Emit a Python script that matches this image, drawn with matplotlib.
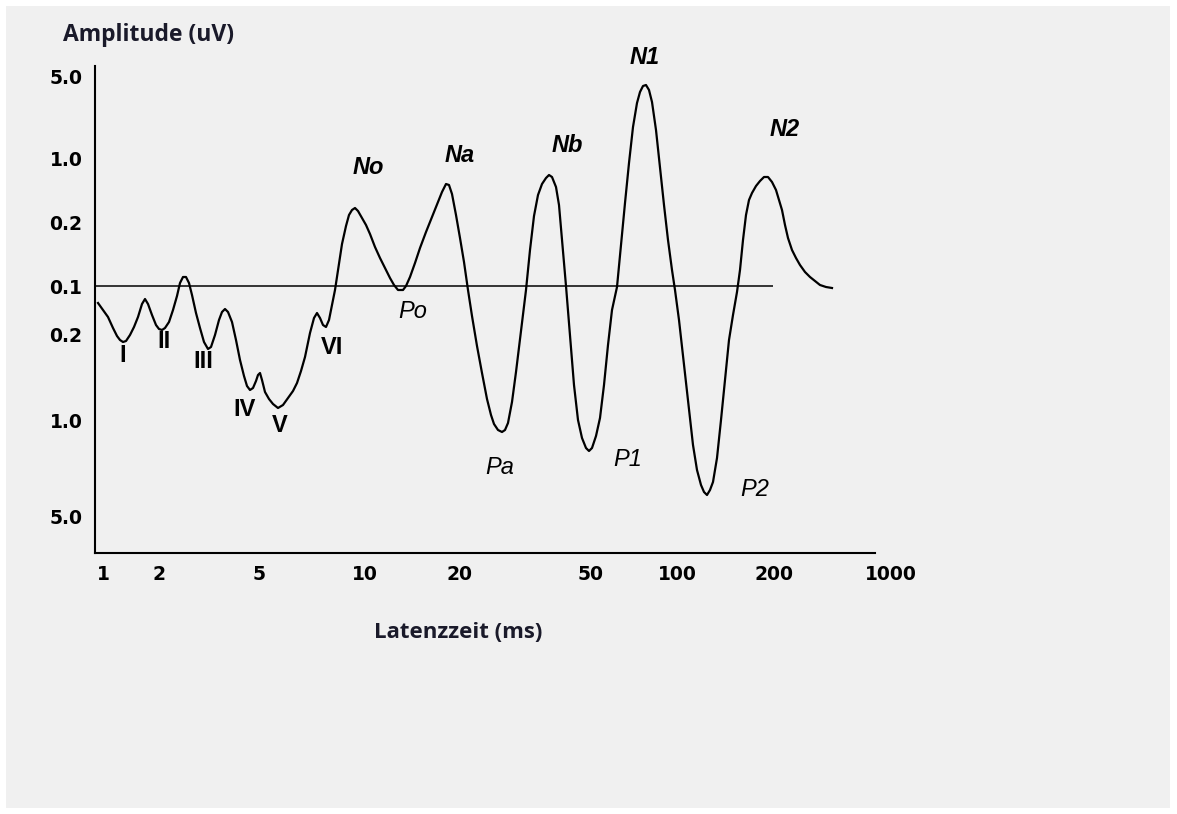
import matplotlib
matplotlib.use("Agg")
import matplotlib.pyplot as plt
from matplotlib.patches import Rectangle

# waveform (x: position along latency axis, y: height above baseline)
wave_x = [3, 8, 13, 18, 22, 25, 28, 31, 35, 39, 43, 47, 50, 53, 57, 61, 64, 67, 70, 74,
          78, 82, 85, 88, 91, 94, 97, 101, 105, 109, 113, 116, 120, 124, 127, 130, 133, 137,
          141, 145, 149, 152, 155, 158, 161, 163, 165, 167, 170, 174, 178, 183, 188, 193,
          198, 202, 206, 210, 215, 219, 222, 225, 228, 231, 234, 237, 240, 243, 247, 251,
          254, 257, 260, 263, 267, 271, 275, 280, 285, 290, 295, 299, 303, 308, 311, 315,
          320, 325, 331, 337, 343, 347, 351, 354, 357, 361, 365, 369, 373, 377, 382, 387,
          392, 396, 399, 403, 407, 410, 413, 417, 421, 426, 431, 435, 439, 443, 447, 451,
          454, 457, 461, 464, 467, 471, 475, 479, 483, 487, 491, 494, 497, 501, 505, 509,
          513, 517, 522, 526, 530, 534, 538, 542, 545, 548, 551, 554, 557, 561, 565, 569,
          573, 577, 580, 584, 589, 594, 598, 602, 606, 609, 612, 615, 618, 622, 626, 630,
          634, 638, 642, 645, 648, 651, 654, 657, 661, 665, 669, 673, 677, 681, 684, 687,
          690, 693, 697, 701, 705, 710, 715, 720, 725, 731, 737]
wave_y = [-17, -24, -31, -42, -50, -54, -56, -55, -49, -41, -31, -18, -13, -18, -29, -39,
          -43, -44, -42, -36, -24, -10, 3, 9, 9, 3, -9, -27, -42, -56, -63, -61, -49, -34,
          -26, -23, -26, -36, -54, -74, -90, -100, -104, -102, -95, -89, -87, -94, -106,
          -113, -118, -122, -119, -112, -105, -97, -85, -71, -47, -32, -27, -32, -39, -41,
          -34, -19, -4, 16, 42, 60, 71, 76, 78, 75, 68, 61, 52, 39, 28, 18, 8, 1, -4, -4, 0,
          9, 23, 38, 54, 69, 84, 94, 102, 101, 92, 71, 48, 24, -4, -30, -60, -87, -113, -129,
          -138, -144, -146, -144, -137, -116, -86, -45, -4, 36, 70, 91, 102, 108, 111, 109,
          99, 81, 46, 0, -50, -99, -134, -152, -162, -165, -162, -150, -132, -99, -59, -24,
          -1, 41, 83, 123, 159, 183, 194, 200, 201, 196, 184, 156, 118, 81, 46, 16, -4, -34,
          -79, -124, -159, -184, -199, -206, -209, -204, -196, -172, -134, -94, -54, -29, -6,
          16, 46, 71, 86, 93, 100, 105, 109, 109, 104, 96, 86, 76, 61, 48, 36, 28, 21, 14,
          9, 5, 1, -1, -2]
baseline_end = 678

xtick_pos = [8, 64, 164, 270, 364, 496, 582, 679, 796]
xtick_labels = ["1", "2", "5", "10", "20", "50", "100", "200", "1000"]
ytick_pos = [210, 128, 64, 0, -49, -134, -230]
ytick_labels = ["5.0", "1.0", "0.2", "0.1", "0.2", "1.0", "5.0"]

wave_names = ["No", "Na", "Nb", "N1", "N2", "Po", "Pa", "P1", "P2"]
wave_name_x = [273, 365, 472, 550, 690, 318, 405, 533, 660]
wave_name_y = [119, 131, 140, 229, 157, -26, -181, -174, -204]
abr_names = ["I", "II", "III", "IV", "V", "VI"]
abr_x = [28, 69, 108, 150, 185, 237]
abr_y = [-69, -56, -76, -124, -139, -62]

W, H = 1177, 814
fig = plt.figure(figsize=(W / 100, H / 100), dpi=100, facecolor="white")
fig.patches.append(Rectangle((6 / W, 6 / H), (1170 - 6) / W, (808 - 6) / H,
                             transform=fig.transFigure, facecolor="#f0f0f0",
                             edgecolor="none", zorder=-10))

ax = fig.add_axes([95 / W, (814 - 553) / H, 800 / W, (553 - 66) / H])
ax.set_zorder(5)
ax.patch.set_visible(False)
ax.set_xlim(0, 800)
ax.set_ylim(-267, 220)

ax.plot(wave_x, wave_y, color="black", lw=1.6, solid_joinstyle="round")
ax.hlines(0, 0, baseline_end, color="black", lw=1.1)

for s in ["top", "right"]:
    ax.spines[s].set_visible(False)
ax.spines["left"].set_linewidth(1.5)
ax.spines["bottom"].set_linewidth(1.5)
ax.spines["bottom"].set_bounds(0, 780)

ax.set_xticks(xtick_pos, xtick_labels)
ax.set_yticks(ytick_pos, ytick_labels)
ax.tick_params(length=0)
ax.tick_params(axis="x", pad=9)
ax.tick_params(axis="y", pad=9)
for lab in ax.get_xticklabels() + ax.get_yticklabels():
    lab.set_fontfamily("DejaVu Sans")
    lab.set_fontweight("bold")
    lab.set_fontsize(13.5)

fig.text(63 / W, 1 - 35 / H, "Amplitude (uV)", fontfamily="Open Sans", fontweight="bold",
         fontsize=16.5, color="#1a1a2a", va="center", ha="left")
fig.text(458 / W, 1 - 633 / H, "Latenzzeit (ms)", fontfamily="Open Sans", fontweight="bold",
         fontsize=16, color="#1a1a2a", va="center", ha="center")

for name, x, y in zip(wave_names, wave_name_x, wave_name_y):
    ax.text(x, y, name, fontfamily="Liberation Sans", fontstyle="italic",
            fontweight="bold" if name.startswith("N") else "normal",
            fontsize=17, ha="center", va="center", clip_on=False)

for name, x, y in zip(abr_names, abr_x, abr_y):
    ax.text(x, y, name, fontfamily="Liberation Sans", fontweight="bold",
            fontsize=17, ha="center", va="center")

fig.savefig("out.png", dpi=100, facecolor=fig.get_facecolor())
